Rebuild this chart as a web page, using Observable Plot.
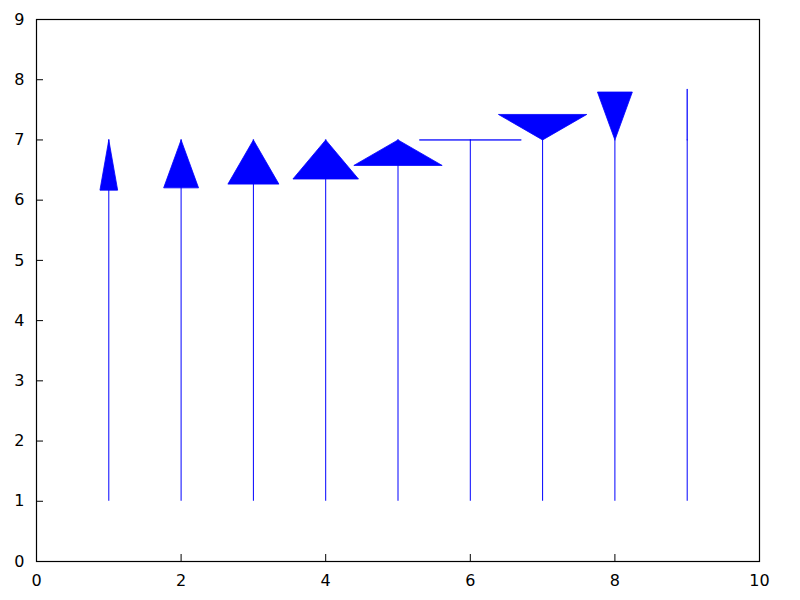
<!DOCTYPE html>
<html><head><meta charset="utf-8">
<script src="https://cdn.jsdelivr.net/npm/d3@7"></script>
<script src="https://cdn.jsdelivr.net/npm/@observablehq/plot@0.6"></script>
<style>body{margin:0;background:#fff}</style>
</head><body><div id="chart"></div>
<script>
// Data
const arrowX = [1, 2, 3, 4, 5, 6, 7, 8, 9];
const arrowFrom = [1, 1, 1, 1, 1, 1, 1, 1, 1];
const arrowTo = [7, 7, 7, 7, 7, 7, 7, 7, 7];
const headAngles = [10, 20, 30, 40, 60, 90, 120, 160, 180]; // degrees
const headLengthPx = 51;
const xTicks = [0, 2, 4, 6, 8, 10];
const yTicks = [0, 1, 2, 3, 4, 5, 6, 7, 8, 9];
const xDomain = [0, 10];
const yDomain = [0, 9];

const W = 800, H = 600;
const mL = 36, mR = 41, mT = 19, mB = 39;
const kx = (W - mL - mR) / (xDomain[1] - xDomain[0]); // px per unit
const ky = (H - mT - mB) / (yDomain[1] - yDomain[0]);

const shafts = arrowX.map((x, i) => ({x, y1: arrowFrom[i], y2: arrowTo[i]}));
const heads = [];
arrowX.forEach((x, i) => {
  const a = headAngles[i] * Math.PI / 180;
  const dx = headLengthPx * Math.sin(a) / kx;
  const dy = headLengthPx * Math.cos(a) / ky;
  heads.push({id: i, x, y: arrowTo[i]});
  heads.push({id: i, x: x - dx, y: arrowTo[i] - dy});
  heads.push({id: i, x: x + dx, y: arrowTo[i] - dy});
  heads.push({id: i, x, y: arrowTo[i]});
});

const chart = Plot.plot({
  width: W, height: H,
  marginLeft: mL, marginRight: mR, marginTop: mT, marginBottom: mB,
  style: {fontFamily: "DejaVu Sans", fontSize: "16px", color: "black", background: "white"},
  x: {domain: xDomain},
  y: {domain: yDomain},
  marks: [
    Plot.ruleX(shafts, {x: "x", y1: "y1", y2: "y2", stroke: "blue", strokeWidth: 1}),
    Plot.line(heads, {x: "x", y: "y", z: "id", fill: "blue", stroke: "blue", strokeWidth: 0.8, curve: "linear"}),
    Plot.axisX(xTicks, {anchor: "bottom", tickSize: -7, tickPadding: 20, tickFormat: "d", label: null}),
    Plot.axisY(yTicks, {anchor: "left", tickSize: -7, tickPadding: 19, tickFormat: "d", label: null}),
    Plot.frame({stroke: "black", strokeWidth: 1.2})
  ]
});
document.getElementById("chart").appendChild(chart);
</script>
</body></html>
